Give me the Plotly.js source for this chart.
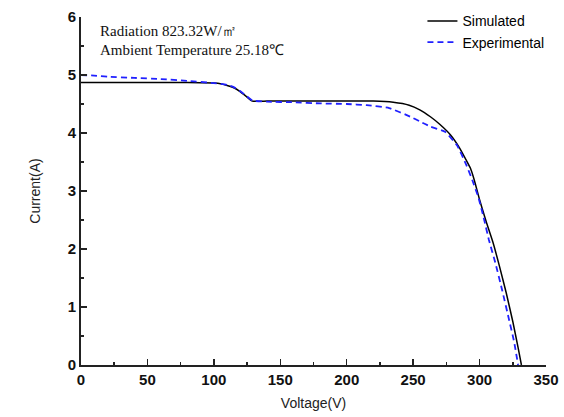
<!DOCTYPE html>
<html>
<head>
<meta charset="utf-8">
<script src="https://cdn.plot.ly/plotly-3.0.1.min.js"></script>
<style>html,body{margin:0;padding:0;background:#fff;}#chart{width:564px;height:417px;}</style>
</head>
<body>
<div id="chart"></div>
<script>
// Simulated I-V curve
const simVoltage = [0, 20, 40, 60, 80, 100, 105, 110, 115, 120, 125, 129, 140, 160, 180, 200, 220, 235, 247, 255, 263, 270, 278, 285, 290, 293, 296, 300, 305, 310, 315, 320, 325, 329, 331.5];
const simCurrent = [4.87, 4.87, 4.87, 4.87, 4.87, 4.86, 4.85, 4.82, 4.78, 4.71, 4.62, 4.55, 4.55, 4.55, 4.55, 4.55, 4.55, 4.53, 4.48, 4.40, 4.28, 4.15, 3.97, 3.74, 3.53, 3.40, 3.19, 2.85, 2.47, 2.12, 1.70, 1.25, 0.75, 0.30, 0];
// Experimental I-V curve
const expVoltage = [0, 10, 20, 40, 60, 80, 100, 110, 115, 120, 125, 129, 140, 160, 180, 200, 215, 232, 248, 255, 263, 274, 283, 290, 294.5, 299, 303, 307, 312, 317, 322, 326, 329];
const expCurrent = [5.00, 4.99, 4.97, 4.95, 4.93, 4.90, 4.86, 4.83, 4.79, 4.72, 4.63, 4.56, 4.54, 4.53, 4.51, 4.50, 4.48, 4.43, 4.28, 4.20, 4.11, 4.02, 3.79, 3.45, 3.19, 2.90, 2.55, 2.16, 1.75, 1.29, 0.80, 0.40, 0];

const seriesNames = ['Simulated', 'Experimental'];
const noteLines = ['Radiation 823.32W/㎡', 'Ambient Temperature 25.18℃'];
const xTitle = 'Voltage(V)';
const yTitle = 'Current(A)';

const tickFont = {family: 'Liberation Sans, Arial, sans-serif', size: 15, weight: 'bold', color: '#111'};
const titleFont = {family: 'Liberation Sans, Arial, sans-serif', size: 14, color: '#222'};

const traces = [
  {x: simVoltage, y: simCurrent, name: seriesNames[0], type: 'scatter', mode: 'lines',
   line: {color: '#000000', width: 1.5, shape: 'spline', smoothing: 0.4}},
  {x: expVoltage, y: expCurrent, name: seriesNames[1], type: 'scatter', mode: 'lines',
   line: {color: '#2020ff', width: 1.8, dash: '6px,4px', shape: 'spline', smoothing: 0.4}}
];

const layout = {
  width: 564, height: 417,
  margin: {l: 81, r: 18, t: 17, b: 52, autoexpand: false},
  paper_bgcolor: '#fff', plot_bgcolor: '#fff',
  showlegend: true,
  legend: {xref: 'container', yref: 'container', x: 0.749, y: 0.987, xanchor: 'left', yanchor: 'top',
           bgcolor: 'rgba(0,0,0,0)',
           font: {family: 'Liberation Sans, Arial, sans-serif', size: 14, color: '#000'},
           tracegroupgap: 0, itemwidth: 30},
  xaxis: {
    range: [0, 350], dtick: 50, tick0: 0, showgrid: false, zeroline: false,
    showline: true, linecolor: '#222', linewidth: 2,
    ticks: 'inside', ticklen: 6, tickwidth: 1.5, tickcolor: '#222',
    minor: {dtick: 25, ticks: 'inside', ticklen: 3, tickwidth: 1.5, tickcolor: '#222', showgrid: false},
    tickfont: tickFont,
    title: {text: xTitle, font: titleFont, standoff: 11}
  },
  yaxis: {
    range: [0, 6], dtick: 1, tick0: 0, showgrid: false, zeroline: false,
    showline: true, linecolor: '#222', linewidth: 2,
    ticks: 'inside', ticklen: 6, tickwidth: 1.5, tickcolor: '#222',
    minor: {dtick: 0.5, ticks: 'inside', ticklen: 3, tickwidth: 1.5, tickcolor: '#222', showgrid: false},
    tickfont: tickFont,
    title: {text: yTitle, font: titleFont, standoff: 24}
  },
  annotations: noteLines.map((t, i) => ({
    text: t, xref: 'paper', yref: 'paper', x: 0.037, y: 0.96 - i * 0.054,
    xanchor: 'left', yanchor: 'middle', showarrow: false,
    font: {family: 'Liberation Serif, Times New Roman, serif', size: 15, color: '#111'}
  }))
};

Plotly.newPlot('chart', traces, layout, {displayModeBar: false, staticPlot: true});
</script>
</body>
</html>
